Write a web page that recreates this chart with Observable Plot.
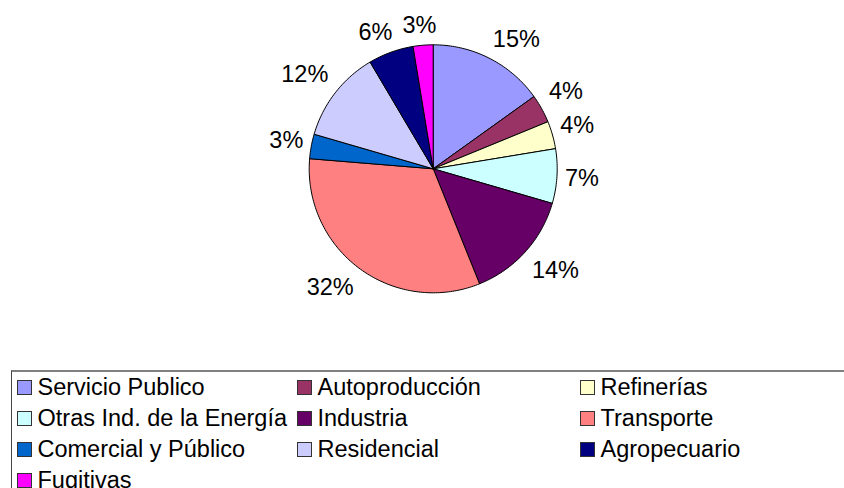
<!DOCTYPE html>
<html>
<head>
<meta charset="utf-8">
<script src="https://cdn.jsdelivr.net/npm/d3@7"></script>
<script src="https://cdn.jsdelivr.net/npm/@observablehq/plot@0.6"></script>
<style>
  html, body { margin: 0; padding: 0; background: #fff; overflow: hidden; }
  body { width: 844px; height: 488px; position: relative; font-family: "Liberation Sans", Arial, sans-serif; }
  #legend { position: absolute; left: 11px; top: 370px; width: 900px; height: 200px;
            border-top: 2px solid #808080; border-left: 1.5px solid #444; box-sizing: border-box; }
  .item { position: absolute; display: flex; align-items: center; height: 31px; font-size: 23.5px; color: #000; white-space: nowrap; }
  .sw { width: 13px; height: 13px; border: 1px solid #333; margin-right: 6px; flex: none; }
</style>
</head>
<body>
<div id="chart"></div>
<div id="legend"></div>
<script>
const categories = ["Servicio Publico", "Autoproducción", "Refinerías", "Otras Ind. de la Energía", "Industria", "Transporte", "Comercial y Público", "Residencial", "Agropecuario", "Fugitivas"];
const shares = [15.1, 3.7, 3.6, 7.1, 14.4, 32.4, 3.2, 12.0, 5.9, 2.6];
const colors = ["#9999FF", "#993366", "#FFFFCC", "#CCFFFF", "#660066", "#FF8080", "#0066CC", "#CCCCFF", "#000080", "#FF00FF"];

// layout
const W = 844, H = 366;
const cx = 432.7, cy = 168.3, R = 124;
const fontSize = 23.5, font = `${fontSize}px "Liberation Sans", Arial, sans-serif`;
const rad = Math.PI / 180;

const total = d3.sum(shares);
const slices = [];
const labels = [];
const ctx = document.createElement("canvas").getContext("2d");
ctx.font = font;
let acc = 0;
shares.forEach((v, i) => {
  const a0 = acc / total * 360, a1 = (acc + v) / total * 360;
  acc += v;
  const cat = categories[i];
  slices.push({cat, x: cx, y: cy});
  const n = Math.max(2, Math.ceil(a1 - a0));
  for (let k = 0; k <= n; ++k) {
    const a = (a0 + (a1 - a0) * k / n) * rad;
    slices.push({cat, x: cx + R * Math.sin(a), y: cy - R * Math.cos(a)});
  }
  slices.push({cat, x: cx, y: cy});
  // label placed just outside the rim, box pushed outward
  const m = (a0 + a1) / 2 * rad;
  const s = Math.sin(m), c = -Math.cos(m);
  const text = Math.round(v) + "%";
  const hw = ctx.measureText(text).width / 2 + 3, hh = 15, g = 5;
  const fx = Math.sign(s) * Math.min(1, Math.abs(s) * 2);
  const fy = Math.sign(c) * Math.min(1, Math.abs(c) * 2);
  labels.push({text, x: cx + (R + g) * s + hw * fx, y: cy + (R + g) * c + hh * fy});
});

const chart = Plot.plot({
  width: W, height: H, margin: 0,
  style: {fontFamily: '"Liberation Sans", Arial, sans-serif', background: "#fff"},
  x: {domain: [0, W], range: [0, W], axis: null},
  y: {domain: [0, H], range: [0, H], axis: null},
  color: {domain: categories, range: colors},
  marks: [
    Plot.line(slices, {x: "x", y: "y", z: "cat", fill: "cat", stroke: "#000", strokeWidth: 1, strokeLinejoin: "round"}),
    Plot.text(labels, {x: "x", y: "y", text: "text", fontSize, fill: "#000", textAnchor: "middle", fontFamily: '"Liberation Sans", Arial, sans-serif'})
  ]
});
document.getElementById("chart").appendChild(chart);

// legend (3 columns)
const colX = [17, 297, 580];
const rowY = [387, 418, 449, 480];
const legend = document.getElementById("legend");
categories.forEach((cat, i) => {
  const col = i % 3, row = Math.floor(i / 3);
  const item = document.createElement("div");
  item.className = "item";
  item.style.left = (colX[col] - 11 - 1.5) + "px";
  item.style.top = (rowY[row] - 370 - 2 - 15.5) + "px";
  const sw = document.createElement("div");
  sw.className = "sw";
  sw.style.background = colors[i];
  item.appendChild(sw);
  item.appendChild(document.createTextNode(cat));
  legend.appendChild(item);
});
</script>
</body>
</html>
